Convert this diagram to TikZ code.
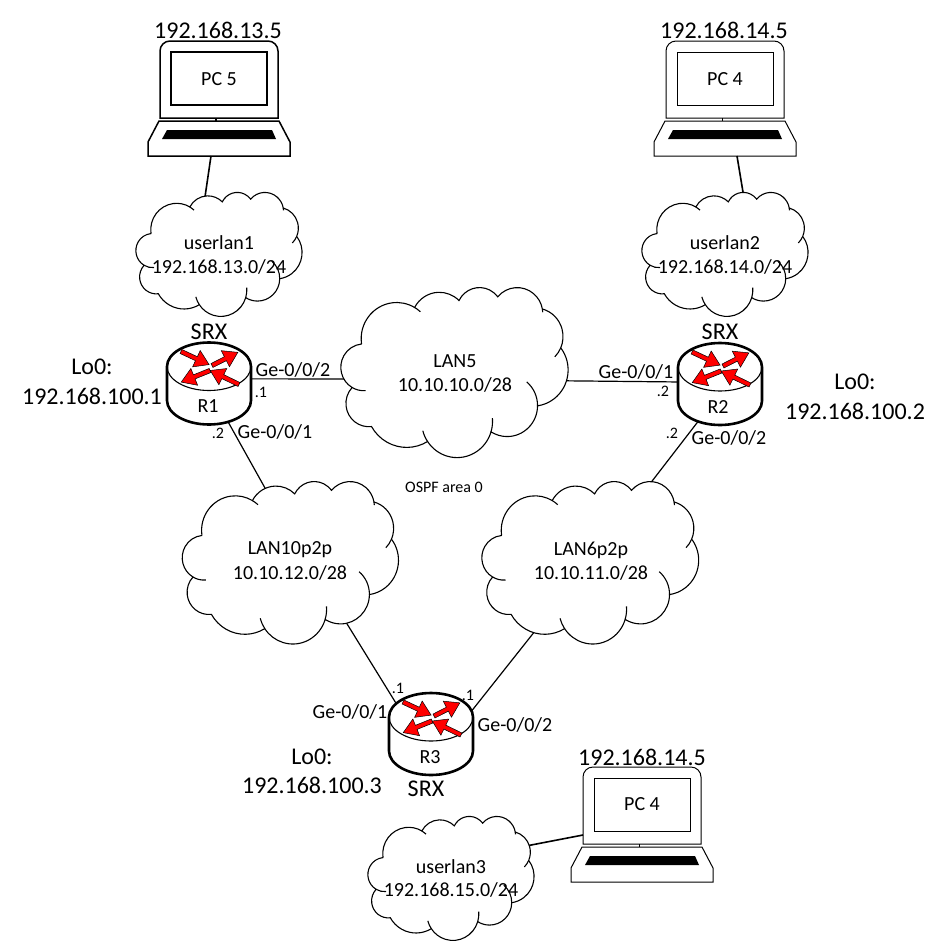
\documentclass[tikz,border=0pt]{standalone}
\usepackage{fontspec}
\setmainfont{Carlito}
\usetikzlibrary{shapes.geometric}
\newcommand{\lobo}[4]{arc[start angle=#1,end angle=#2,x radius=#3,y radius=#4]}
\tikzset{
	txt/.style={inner sep=0pt,font=\fontsize{20}{24}\selectfont},
	bigtxt/.style={inner sep=0pt,font=\fontsize{24}{28}\selectfont},
	smalltxt/.style={inner sep=0pt,font=\fontsize{16}{18}\selectfont},
	hub/.style={ellipse,inner sep=0pt},
	smallhub/.style={hub,minimum width=130pt,minimum height=90pt},
	lanhub/.style={hub,minimum width=180pt,minimum height=130pt},
	routerhub/.style={hub,minimum width=76pt,minimum height=72pt},
	link/.style={line width=1.2pt},
	pclink/.style={line width=1.6pt},
	laptop/.pic={
		\draw (-59,77) [rounded corners=10pt] -- (-59,0) -- (59,0) [sharp corners] -- (59,77) -- cycle;
		\draw (-48,11) rectangle (48,64);
		\draw (-3,77) -- (-3,80);
		\draw (-60,80) -- (60,80) -- (71,101) -- (71,115) -- (-71,115) -- (-71,101) -- cycle;
		\fill (-57,98) -- (57,98) -- (53,89) -- (-52,89) -- cycle;
	},
	nuvola/.pic={
		\draw[line width=1.1pt,fill=white] (3.9,14.37) \lobo{-187.745}{-59.62}{6.753}{9.19}
			\lobo{-152.01}{-45.46}{5.333}{7.267} \lobo{-153.48}{-37.33}{4.365}{5.945}
			\lobo{-139.71}{-10.21}{4.857}{6.595} \lobo{-74.77}{23.21}{5.333}{7.273}
			\lobo{-37.5}{81.86}{6.775}{9.22} \lobo{.46}{122.02}{5.785}{7.867}
			\lobo{16.84}{146.23}{6.752}{9.215} \lobo{59.03}{150.2}{7.72}{10.543}
			\lobo{83.31}{223.12}{4.36}{5.918} \lobo{120.37}{264.12}{4.345}{5.945} -- cycle;
		% archi interni
		\draw[line width=1.1pt] (4.686,26.329) \lobo{85}{120.37}{4.345}{5.945};
		\draw[line width=1.1pt] (16.473,39.261) \lobo{146.23}{165}{6.752}{9.215};
		\draw[line width=1.1pt] (28.813,33.336) \lobo{-5}{16.84}{6.752}{9.215};
		\draw[line width=1.1pt] (35.336,24.113) \lobo{-50}{.46}{5.785}{7.867};
		\draw[line width=1.1pt] (41.818,15.462) \lobo{23.21}{45}{5.333}{7.273};
		\draw[line width=1.1pt] (38.317,5.578) \lobo{-10.21}{-3}{4.857}{6.595};
		\draw[line width=1.1pt] (14.006,5.202) \lobo{-59.62}{-48}{6.753}{9.19};
	},
	routerpic/.pic={
		\draw[line width=2.6pt,fill=white] (-42,-17) \lobo{180}{360}{42}{24} -- (42,17) \lobo{0}{180}{42}{24} -- cycle;
		\draw[line width=1.1pt] (-42,-17) \lobo{180}{0}{42}{24};
		\foreach \x/\y/\a/\l in {-28/-32/-25/31,3/-18/27/29,1/-13/202/31,30/1/154/32}
			\draw[fill=red,line width=.5pt,shift={(\x,\y)},rotate=\a]
				(0,-2.2) -- ({\l-14},-2.2) -- ({\l-14},-9) -- (\l,0) -- ({\l-14},9) -- ({\l-14},2.2) -- (0,2.2) -- cycle;
	},
}
\begin{document}
\begin{tikzpicture}[x=1pt,y=-1pt]
	\path[use as bounding box] (0,0) rectangle (947,951);
	% nodi di aggancio
	\node[smallhub] (userlan1) at (219,254) {};
	\node[smallhub] (userlan2) at (724.5,254) {};
	\node[smallhub] (userlan3) at (451,878) {};
	\node[hub,minimum width=200pt,minimum height=130pt] (lan5) at (454.5,372) {};
	\node[lanhub] (lan10) at (290.4,562.3) {};
	\node[lanhub] (lan6) at (590.3,562.5) {};
	\node[routerhub] (r1) at (209,383.5) {};
	\node[routerhub] (r2) at (720,384) {};
	\node[routerhub] (r3) at (431,734) {};
	\coordinate (pc5port) at (211,156);
	\coordinate (pc4port) at (737,156);
	\coordinate (pc6port) at (583,835);
	% collegamenti
	\draw[pclink] (pc5port) -- (userlan1.110);
	\draw[pclink] (pc4port) -- (userlan2.63);
	\draw[pclink] (userlan3.28) -- (pc6port);
	\draw[link] (r1.7) -- (lan5.184);
	\draw[link] (r1.-64) -- (lan10.107);
	\draw[link] (r2.177) -- (lan5.-5);
	\draw[link] (r2.241) -- (lan6.53);
	\draw[link] (lan10.-46) -- (r3.143);
	\draw[link] (lan6.231) -- (r3.24);
	% portatili
	\pic[line width=1.5pt] at (219,41) {laptop};
	\pic[line width=1pt] at (725,41) {laptop};
	\pic[line width=1pt] at (642,767) {laptop};
	% nuvole
	\pic[xscale=3.843,yscale=2.87] at (136,192) {nuvola};
	\pic[xscale=3.843,yscale=2.87] at (642,192) {nuvola};
	\pic[xscale=3.843,yscale=2.87] at (368,816) {nuvola};
	\pic[xscale=5.255,yscale=3.935] at (341,287) {nuvola};
	\pic[xscale=5,yscale=3.76] at (182.4,481) {nuvola};
	\pic[xscale=5.014,yscale=3.76] at (482,481) {nuvola};
	% router
	\pic at (209,383.5) {routerpic};
	\pic at (720,384) {routerpic};
	\pic at (431,734) {routerpic};
	% etichette
	\node[bigtxt] (ip5) at (218,30) {192.168.13.5};
	\node[bigtxt] (ip4) at (724,30) {192.168.14.5};
	\node[bigtxt] (ip6) at (642,757) {192.168.14.5};
	\node[txt] (pc5) at (219,79) {PC 5};
	\node[txt] (pc4) at (725,79) {PC 4};
	\node[txt] (pc6) at (642,804) {PC 4};
	\node[txt] (ul1) at (219,243) {userlan1};
	\node[txt] (ul1ip) at (219,267) {192.168.13.0/24};
	\node[txt] (ul2) at (725,243) {userlan2};
	\node[txt] (ul2ip) at (725,267) {192.168.14.0/24};
	\node[txt] (l5) at (455,361) {LAN5};
	\node[txt] (l5ip) at (455,385) {10.10.10.0/28};
	\node[txt] (l10) at (290,550) {LAN10p2p};
	\node[txt] (l10ip) at (290,573) {10.10.12.0/28};
	\node[txt] (l6) at (591,550) {LAN6p2p};
	\node[txt] (l6ip) at (591,573) {10.10.11.0/28};
	\node[txt] (ul3) at (451,867) {userlan3};
	\node[txt] (ul3ip) at (451,890) {192.168.15.0/24};
	\node[smalltxt] (ospf) at (444,487) {OSPF area 0};
	\node[bigtxt] (srx1) at (209,332) {SRX};
	\node[bigtxt] (srx2) at (720,332) {SRX};
	\node[bigtxt] (srx3) at (426,789) {SRX};
	\node[txt] (r1lab) at (208,406) {R1};
	\node[txt] (r2lab) at (718,407) {R2};
	\node[txt] (r3lab) at (430,757) {R3};
	\node[bigtxt] (lo1) at (92,367) {Lo0:};
	\node[bigtxt] (lo1ip) at (92,396.5) {192.168.100.1};
	\node[bigtxt] (lo2) at (855,382) {Lo0:};
	\node[bigtxt] (lo2ip) at (855,411) {192.168.100.2};
	\node[bigtxt] (lo3) at (312,757) {Lo0:};
	\node[bigtxt] (lo3ip) at (312,785) {192.168.100.3};
	\node[txt] (ge1a) at (293,370) {Ge-0/0/2};
	\node[smalltxt] (d1a) at (261,392) {.1};
	\node[txt] (ge1b) at (275,432) {Ge-0/0/1};
	\node[smalltxt] (d1b) at (218,433) {.2};
	\node[txt] (ge2a) at (636,372) {Ge-0/0/1};
	\node[smalltxt] (d2a) at (663,391) {.2};
	\node[txt] (ge2b) at (729,438) {Ge-0/0/2};
	\node[smalltxt] (d2b) at (672,433) {.2};
	\node[txt] (ge3a) at (350,712) {Ge-0/0/1};
	\node[smalltxt] (d3a) at (398,688) {.1};
	\node[txt] (ge3b) at (515,725) {Ge-0/0/2};
	\node[smalltxt] (d3b) at (468,695) {.1};
\end{tikzpicture}
\end{document}
